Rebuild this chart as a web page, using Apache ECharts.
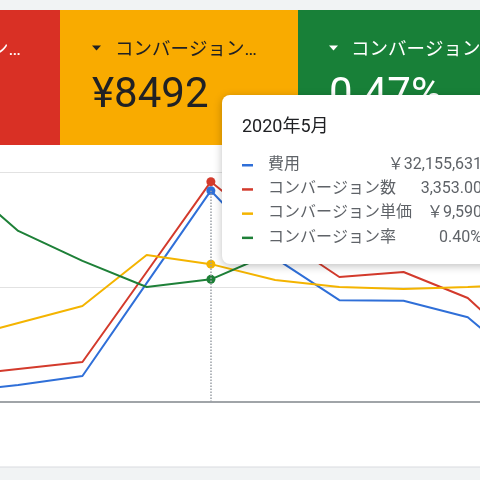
<!DOCTYPE html>
<html>
<head>
<meta charset="utf-8">
<title>コンバージョン推移</title>
<script src="https://cdn.jsdelivr.net/npm/echarts/dist/echarts.min.js"></script>
<style>
  html, body { margin: 0; padding: 0; background: #f1f3f4; overflow: hidden; }
  #wrap { position: relative; width: 480px; height: 480px; overflow: hidden; }
  /* 1月が画面左外に来るよう、チャートを左にずらして広げる */
  #main { position: absolute; left: -46px; top: 0; width: 578px; height: 480px; }
</style>
</head>
<body>
<div id="wrap"><div id="main"></div></div>
<script>
// 月別データ
var months = ['2020年1月', '2020年2月', '2020年3月', '2020年4月', '2020年5月',
              '2020年6月', '2020年7月', '2020年8月', '2020年9月', '2020年10月'];
var cost = [1520000, 2590000, 3960000, 18100000, 32155631, 21900000, 15500000, 15400000, 12900000, 4700000];
var conversions = [396, 502, 609, 1978, 3353, 2557, 1902, 1978, 1583, 685];
var cpa = [4313, 5496, 6678, 10226, 9590, 8487, 8000, 7861, 8000, 8209];
var cvr = [0.74, 0.558, 0.46, 0.375, 0.40, 0.49, 0.52, 0.55, 0.50, 0.48];

var seriesNames = ['費用', 'コンバージョン数', 'コンバージョン単価', 'コンバージョン率'];
var seriesColors = ['#2f6fd8', '#d33a2c', '#f4b400', '#1e8038'];

// スコアカード
var kpiLabels = ['コンバージョン…', 'コンバージョン…', 'コンバージョン率'];
var kpiValues = ['', '¥8492', '0.47%'];

var focus = 4; // 2020年5月
var OFF = 46;  // チャートのずらし幅

function comma(n) {
    return String(n).replace(/\B(?=(\d{3})+(?!\d))/g, ',');
}
var tipValues = [
    '￥' + comma(cost[focus]),
    comma(Math.floor(conversions[focus])) + '.' + conversions[focus].toFixed(2).split('.')[1],
    '￥' + comma(cpa[focus]),
    cvr[focus].toFixed(2) + '%'
];

var font = 'Roboto, "Noto Sans CJK JP", sans-serif';

function lineSeries(idx, data) {
    return {
        name: seriesNames[idx],
        type: 'line',
        yAxisIndex: idx,
        symbol: 'none',
        lineStyle: { width: 2, color: seriesColors[idx] },
        itemStyle: { color: seriesColors[idx] },
        data: data.map(function (v, i) {
            return i === focus ? { value: v, symbol: 'circle', symbolSize: 9 } : v;
        })
    };
}

var myChart = echarts.init(document.getElementById('main'));

var tip = [
    { type: 'rect', shape: { x: 222, y: 95, width: 290, height: 169, r: 8 },
      style: { fill: '#ffffff', shadowBlur: 8, shadowOffsetY: 2, shadowColor: 'rgba(0,0,0,0.25)' } },
    { type: 'text', x: 242, y: 127, style: { text: months[focus], font: '18px ' + font, fill: '#202124', verticalAlign: 'middle' } }
];
for (var i = 0; i < 4; i++) {
    var cy = 165 + i * 24.2;
    tip.push({ type: 'rect', shape: { x: 242, y: cy - 1, width: 11, height: 2.5 }, style: { fill: seriesColors[i] } });
    tip.push({ type: 'text', x: 268, y: cy, style: { text: seriesNames[i], font: '16px ' + font, fill: '#5f6368', verticalAlign: 'middle' } });
    tip.push({ type: 'text', x: 482, y: cy, style: { text: tipValues[i], font: '16px ' + font, fill: '#5f6368', align: 'right', verticalAlign: 'middle' } });
}
tip.forEach(function (el) { el.z = 100; });

var cards = [
    // チャート背景パネル
    { type: 'rect', z: -10, shape: { x: 0, y: 145, width: 480, height: 322 }, style: { fill: '#ffffff' } },
    { type: 'rect', z: -10, shape: { x: 0, y: 466.5, width: 480, height: 1 }, style: { fill: '#dadce0' } },
    // スコアカード
    { type: 'rect', z: 5, shape: { x: 0, y: 10, width: 60, height: 135 }, style: { fill: '#d93025' } },
    { type: 'rect', z: 5, shape: { x: 60, y: 10, width: 238, height: 135 }, style: { fill: '#f9ab00' } },
    { type: 'rect', z: 5, shape: { x: 298, y: 10, width: 182, height: 135 }, style: { fill: '#188038' } },
    { type: 'text', z: 6, x: 21, y: 50, style: { text: kpiLabels[0], font: '18.5px ' + font, fill: '#ffffff', align: 'right', verticalAlign: 'middle' } },
    { type: 'polygon', z: 6, shape: { points: [[92, 45.5], [101, 45.5], [96.5, 50.5]] }, style: { fill: '#202124' } },
    { type: 'text', z: 6, x: 115, y: 50, style: { text: kpiLabels[1], font: '18.5px ' + font, fill: '#202124', verticalAlign: 'middle' } },
    { type: 'text', z: 6, x: 92, y: 96, style: { text: kpiValues[1], font: '42px ' + font, fill: '#202124', verticalAlign: 'middle' } },
    { type: 'polygon', z: 6, shape: { points: [[329, 45.5], [338, 45.5], [333.5, 50.5]] }, style: { fill: '#ffffff' } },
    { type: 'text', z: 6, x: 351, y: 50, style: { text: kpiLabels[2], font: '18.5px ' + font, fill: '#ffffff', verticalAlign: 'middle' } },
    { type: 'text', z: 6, x: 329, y: 96, style: { text: kpiValues[2], font: '42px ' + font, fill: '#ffffff', verticalAlign: 'middle' } }
];

option = {
    animation: false,
    backgroundColor: '#f1f3f4',
    grid: {
        left: 0,
        right: 0,
        top: 172,
        bottom: 78
    },
    xAxis: {
        type: 'category',
        boundaryGap: false,
        data: months,
        axisLine: { lineStyle: { color: '#a0a4a8', width: 2 } },
        axisTick: { show: false },
        axisLabel: { show: false },
        splitLine: { show: false }
    },
    yAxis: [
        { type: 'value', min: 0, max: 35000000, interval: 17500000, axisLabel: { show: false },
          axisLine: { show: false }, axisTick: { show: false },
          splitLine: { lineStyle: { color: '#e2e2e2', width: 1 } } },
        { type: 'value', min: 0, max: 3500, show: false },
        { type: 'value', min: 0, max: 16000, show: false },
        { type: 'value', min: 0, max: 0.75, show: false }
    ],
    series: [
        lineSeries(0, cost),
        lineSeries(1, conversions),
        lineSeries(2, cpa),
        lineSeries(3, cvr)
    ],
    graphic: cards.concat(tip).map(function (el) {
        // 画面座標 → ずらしたキャンバス座標
        el.x = (el.x || 0) + OFF;
        return el;
    })
};

// 5月の縦点線
option.series[0].markLine = {
    silent: true,
    symbol: 'none',
    label: { show: false },
    lineStyle: { type: 'dotted', color: '#9aa0a6', width: 1.5 },
    data: [[{ coord: [focus, 0] }, { coord: [focus, cost[focus]] }]]
};

myChart.setOption(option);
</script>
</body>
</html>
